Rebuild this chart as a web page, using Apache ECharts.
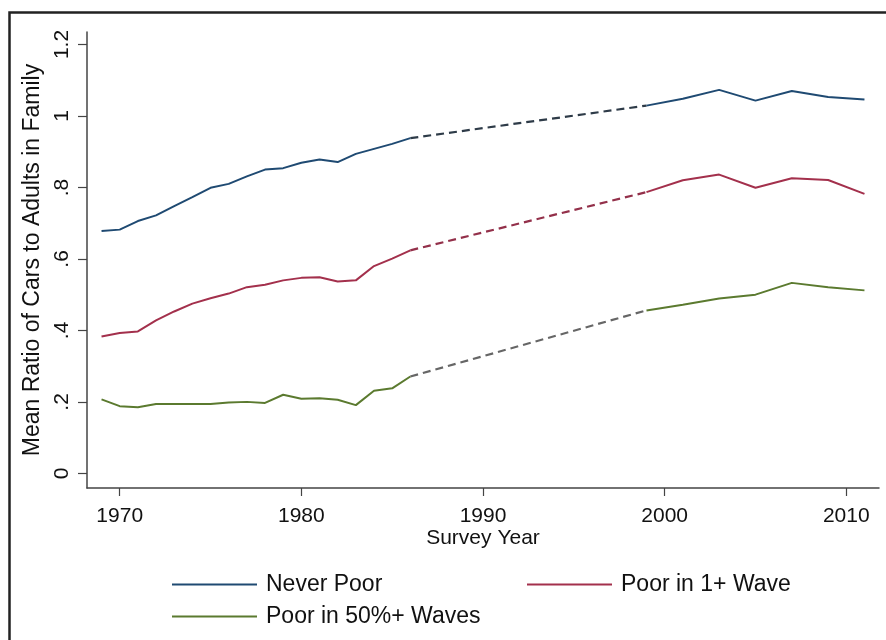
<!DOCTYPE html>
<html>
<head>
<meta charset="utf-8">
<script src="https://cdn.jsdelivr.net/npm/echarts@6/dist/echarts.min.js"></script>
<style>
  html, body { margin: 0; padding: 0; background: #fff; }
  #chart { width: 886px; height: 640px; }
</style>
</head>
<body>
<div id="chart"></div>
<script>
// Survey years (annual 1969-1986, biennial 1999-2011)
const earlyYears = [1969,1970,1971,1972,1973,1974,1975,1976,1977,1978,1979,1980,1981,1982,1983,1984,1985,1986];
const lateYears = [1999,2001,2003,2005,2007,2009,2011];

const neverPoorEarly = [0.678,0.682,0.706,0.722,0.748,0.773,0.799,0.810,0.831,0.850,0.854,0.869,0.878,0.871,0.894,0.908,0.922,0.938];
const neverPoorLate = [1.029,1.048,1.073,1.043,1.070,1.053,1.046];

const poor1Early = [0.383,0.393,0.397,0.428,0.453,0.475,0.490,0.503,0.521,0.528,0.540,0.547,0.549,0.537,0.540,0.580,0.601,0.624];
const poor1Late = [0.787,0.820,0.836,0.799,0.826,0.821,0.782];

const poor50Early = [0.207,0.188,0.185,0.194,0.194,0.194,0.194,0.198,0.200,0.197,0.220,0.209,0.210,0.206,0.191,0.231,0.238,0.271];
const poor50Late = [0.456,0.472,0.489,0.500,0.533,0.521,0.512];

const xTicks = [1970,1980,1990,2000,2010];
const yTicks = [0,0.2,0.4,0.6,0.8,1,1.2];
const yTickLabels = ['0','.2','.4','.6','.8','1','1.2'];

const seriesNames = ['Never Poor','Poor in 1+ Wave','Poor in 50%+ Waves'];
const solidColors = ['#1f4a72','#a3304c','#5b7a2f'];
const dashColors = ['#2e3b48','#93304a','#666666'];

function solidData(early, late) {
  const d = earlyYears.map((y, i) => [y, early[i]]);
  d.push([1992, '-']);
  lateYears.forEach((y, i) => d.push([y, late[i]]));
  return d;
}
function gapData(early, late) {
  return [[earlyYears[earlyYears.length - 1], early[early.length - 1]], [lateYears[0], late[0]]];
}

const groups = [
  [neverPoorEarly, neverPoorLate],
  [poor1Early, poor1Late],
  [poor50Early, poor50Late]
];

const series = [];
groups.forEach((g, k) => {
  series.push({
    name: seriesNames[k], type: 'line', data: solidData(g[0], g[1]),
    showSymbol: false, symbol: 'none', connectNulls: false,
    lineStyle: { color: solidColors[k], width: 2 }, itemStyle: { color: solidColors[k] },
    emphasis: { disabled: true }, z: 3
  });
  series.push({
    name: seriesNames[k] + ' (gap)', type: 'line', data: gapData(g[0], g[1]),
    showSymbol: false, symbol: 'none',
    lineStyle: { color: dashColors[k], width: 2.2, type: [8, 5] },
    emphasis: { disabled: true }, z: 2
  });
});

const font = 'Liberation Sans, Arial, Helvetica, sans-serif';

const chart = echarts.init(document.getElementById('chart'), null, { renderer: 'canvas' });
chart.setOption({
  backgroundColor: '#ffffff',
  animation: false,
  grid: { left: 87, right: 7, top: 32, bottom: 152, containLabel: false },
  xAxis: {
    type: 'value', min: 1968.2, max: 2011.8,
    name: 'Survey Year', nameLocation: 'middle', nameGap: 40, nameMoveOverlap: false,
    nameTextStyle: { fontFamily: font, fontSize: 21, color: '#111' },
    axisLine: { show: true, onZero: false, lineStyle: { color: '#444', width: 1.5 } },
    axisTick: { show: true, length: 8, customValues: xTicks, lineStyle: { color: '#444', width: 1.2 } },
    axisLabel: { customValues: xTicks, fontFamily: font, fontSize: 21, color: '#111', margin: 18,
      formatter: function (v) { return String(v); } },
    splitLine: { show: false }
  },
  yAxis: {
    type: 'value', min: -0.041, max: 1.235,
    name: 'Mean Ratio of Cars to Adults in Family', nameLocation: 'middle', nameGap: 40, nameRotate: 90,
    nameTextStyle: { fontFamily: font, fontSize: 23, color: '#111' },
    axisLine: { show: true, onZero: false, lineStyle: { color: '#444', width: 1.5 } },
    axisTick: { show: true, length: 9, customValues: yTicks, lineStyle: { color: '#444', width: 1.2 } },
    axisLabel: {
      customValues: yTicks, rotate: 90, fontFamily: font, fontSize: 21, color: '#111', margin: 14,
      formatter: function (v) { const i = yTicks.findIndex(t => Math.abs(t - v) < 1e-6); return i >= 0 ? yTickLabels[i] : ''; }
    },
    splitLine: { show: false }
  },
  legend: [
    {
      data: [seriesNames[0], seriesNames[2]], orient: 'vertical', left: 167, top: 568,
      itemWidth: 85, itemHeight: 2, icon: 'rect', itemGap: 9,
      textStyle: { fontFamily: font, fontSize: 23, color: '#111', padding: [0, 0, 0, 4] },
      selectedMode: false
    },
    {
      data: [seriesNames[1]], orient: 'vertical', left: 522, top: 568,
      itemWidth: 85, itemHeight: 2, icon: 'rect', itemGap: 9,
      textStyle: { fontFamily: font, fontSize: 23, color: '#111', padding: [0, 0, 0, 4] },
      selectedMode: false
    }
  ],
  graphic: [
    { type: 'rect', left: 7, top: 10, shape: { width: 900, height: 700 }, style: { fill: 'none', stroke: '#222', lineWidth: 2.5 }, z: 100, silent: true }
  ],
  series: series
});
</script>
</body>
</html>
